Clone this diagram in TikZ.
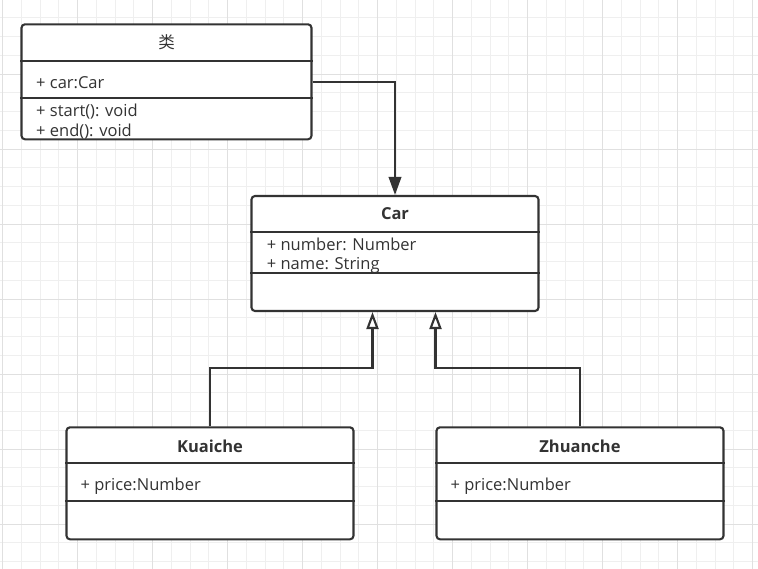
\documentclass[tikz,border=0pt]{standalone}
\usepackage{fontspec}
\setmainfont{Open Sans}
\newfontfamily\cjk{Noto Sans CJK SC}
\usetikzlibrary{arrows.meta}
\definecolor{umlgray}{HTML}{333333}
\definecolor{gridlight}{HTML}{EFEFEF}
\definecolor{griddark}{HTML}{E0E0E0}

\begin{document}
\begin{tikzpicture}[x=1pt,y=-1pt,
    umlbox/.style={draw=umlgray, line width=2.1pt, rounded corners=3.5pt, fill=white, inner sep=0pt},
    classname/.style={inner sep=0pt, anchor=base, text=umlgray, font=\fontsize{16.5}{20}\selectfont\bfseries},
    member/.style={inner sep=0pt, anchor=base west, text=umlgray, font=\fontsize{16.5}{20}\selectfont},
    divider/.style={draw=umlgray, line width=2.1pt},
    assoc/.style={draw=umlgray, line width=2.1pt, -{Triangle[width=12.5pt,length=18pt]}},
    inherit/.style={draw=umlgray, line width=2.1pt, -{Triangle[width=12pt,length=17pt,fill=white,line width=2.1pt]}}]
      \fill[white, use as bounding box] (0,0) rectangle (758,568);
      \begin{scope}
        \clip (0,0) rectangle (758,568);
        \begin{scope}[shift={(2.5,-0.8)}]
          \draw[gridlight, line width=1pt, step=18.75pt] (-10,580) grid (770,-10);
          \draw[griddark, line width=1pt, step=75pt] (-10,580) grid (770,-10);
        \end{scope}
      \end{scope}
      % boxes
      \node[umlbox, minimum width=290pt, minimum height=115pt] (lei) at (166.5,81.8) {};
      \node[umlbox, minimum width=287pt, minimum height=115pt] (car) at (395,253.5) {};
      \node[umlbox, minimum width=287pt, minimum height=112pt] (kuaiche) at (210,483.3) {};
      \node[umlbox, minimum width=287pt, minimum height=112pt] (zhuanche) at (580,483.3) {};
      \draw[divider] ([yshift=-37.4pt]lei.north west) -- ([yshift=-37.4pt]lei.north east);
      \draw[divider] ([yshift=-74.7pt]lei.north west) -- ([yshift=-74.7pt]lei.north east);
      \draw[divider] ([yshift=-37.3pt]car.north west) -- ([yshift=-37.3pt]car.north east);
      \draw[divider] ([yshift=-78pt]car.north west) -- ([yshift=-78pt]car.north east);
      \draw[divider] ([yshift=-36.7pt]kuaiche.north west) -- ([yshift=-36.7pt]kuaiche.north east);
      \draw[divider] ([yshift=-74.4pt]kuaiche.north west) -- ([yshift=-74.4pt]kuaiche.north east);
      \draw[divider] ([yshift=-36.7pt]zhuanche.north west) -- ([yshift=-36.7pt]zhuanche.north east);
      \draw[divider] ([yshift=-74.4pt]zhuanche.north west) -- ([yshift=-74.4pt]zhuanche.north east);
      % texts
      \node[classname, anchor=center, font=\fontsize{16.5}{20}\selectfont\cjk] (leiname) at (166.5,42.5) {类};
      \node[member] (leiattr) at (36,88.3) {+ car:Car};
      \node[member] (leistart) at (36,116.7) {+ start(): void};
      \node[member] (leiend) at (36,136) {+ end(): void};
      \node[classname] (carname) at (395,219.5) {Car};
      \node[member] (carnumber) at (266.7,250.3) {+ number: Number};
      \node[member] (carnamefield) at (266.7,269.5) {+ name: String};
      \node[classname] (kuaichename) at (210,452.7) {Kuaiche};
      \node[member] (kuaicheprice) at (80.4,490.7) {+ price:Number};
      \node[classname] (zhuanchename) at (580,452.7) {Zhuanche};
      \node[member] (zhuancheprice) at (450.4,490.7) {+ price:Number};
      % connectors
      \draw[assoc] ([yshift=-58.4pt]lei.north east) -| (car.north);
      \draw[inherit] (kuaiche.north) -- ++(0,-58) -| ([xshift=-22.5pt]car.south);
      \draw[inherit] (zhuanche.north) -- ++(0,-58) -| ([xshift=40.5pt]car.south);
    \end{tikzpicture}
\end{document}
